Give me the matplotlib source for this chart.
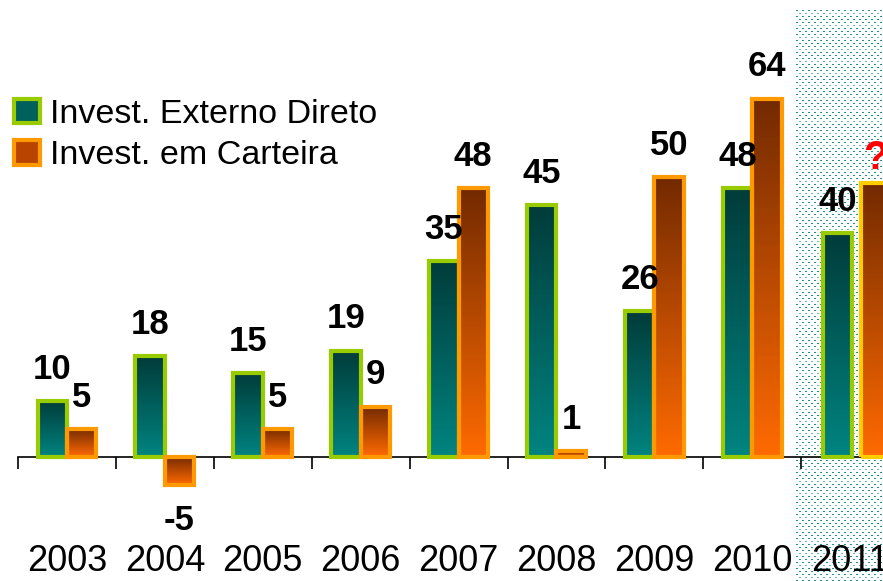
import matplotlib.pyplot as plt
import numpy as np
from matplotlib.patches import Patch
from matplotlib.colors import LinearSegmentedColormap

plt.rcParams['font.family'] = ['Liberation Sans', 'DejaVu Sans']

anos = ['2003', '2004', '2005', '2006', '2007', '2008', '2009', '2010', '2011']
ied = [10, 18, 15, 19, 35, 45, 26, 48, 40]
carteira = [5, -5, 5, 9, 48, 1, 50, 64, 49]
rotulos_ied = ['10', '18', '15', '19', '35', '45', '26', '48', '40']
rotulos_carteira = ['5', '-5', '5', '9', '48', '1', '50', '64', '?']

W, H = 883, 581
fig = plt.figure(figsize=(W / 100, H / 100), dpi=100)
ax = fig.add_axes([18 / W, 80 / H, 865 / W, 501 / H])
ax.set_facecolor('none')

# fundo pontilhado da projecao 2011
padrao = np.zeros((H - 10, W - 796, 4))
r, c = np.mgrid[0:H - 10, 0:W - 796]
pontos = (((r % 6 == 0) & (c % 6 < 2)) | ((r % 6 == 3) & ((c + 3) % 6 < 2)))
padrao[pontos] = [0.1, 0.58, 0.56, 1.0]
padrao[pontos & (r % 12 == 3)] = [0.4, 0.74, 0.72, 1.0]
img = fig.figimage(padrao, xo=796, yo=0, origin='upper')
img.set_zorder(-1)

cmap_verde = LinearSegmentedColormap.from_list('verde', ['#003C3A', '#008480'])
cmap_laranja = LinearSegmentedColormap.from_list('laranja', ['#732A00', '#FF6A00'])
grad = np.linspace(0, 1, 100).reshape(-1, 1)

x = np.arange(len(anos))
desloc_ied = np.full(len(anos), -0.15)
desloc_cart = np.full(len(anos), 0.15)
desloc_ied[-1] = -0.13
desloc_cart[-1] = 0.26
larg = 0.3

borda_cart = ['#FF9900'] * (len(anos) - 1) + ['#FFCC00']

b1 = ax.bar(x + desloc_ied, ied, width=larg, facecolor='none',
            edgecolor='#99CC00', linewidth=3, zorder=3)
b2 = ax.bar(x + desloc_cart, carteira, width=larg, facecolor='none',
            edgecolor=borda_cart, linewidth=3, zorder=3)

for barras, cmap in [(b1, cmap_verde), (b2, cmap_laranja)]:
    for bar in barras:
        x0 = bar.get_x()
        y0, y1 = sorted([bar.get_y(), bar.get_y() + bar.get_height()])
        ax.imshow(grad, cmap=cmap, extent=(x0, x0 + bar.get_width(), y0, y1),
                  aspect='auto', origin='upper', zorder=2)

def rotular(barras, textos, cor='black'):
    for bar, txt in zip(barras, textos):
        h = bar.get_height()
        cx = bar.get_x() + bar.get_width() / 2
        tam = 25
        if txt == '?':
            cor_t, tam, dy = 'red', 29, 4
        else:
            cor_t, dy = cor, 11
        if h >= 0:
            ax.annotate(txt, xy=(cx, h), xytext=(0, dy), textcoords='offset points',
                        ha='center', va='bottom', fontsize=tam, fontweight='bold', color=cor_t)
        else:
            ax.annotate(txt, xy=(cx, h), xytext=(0, -14), textcoords='offset points',
                        ha='center', va='top', fontsize=tam, fontweight='bold', color=cor_t)

rotular(b1, rotulos_ied)
rotular(b2, rotulos_carteira)

for s in ['top', 'right', 'left']:
    ax.spines[s].set_visible(False)
ax.spines['bottom'].set_position(('data', 0))
ax.spines['bottom'].set_linewidth(1.2)
ax.set_yticks([])
ax.set_xticks(x)
ax.set_xticklabels(anos, fontsize=26)
ax.set_xticks(np.arange(-0.5, len(anos), 1), minor=True)
ax.tick_params(axis='x', which='major', length=0, pad=63)
ax.tick_params(axis='x', which='minor', length=8.5, width=1.2, direction='out')
# limites depois dos ticks (set_xticks expande a vista)
ax.set_xlim(-0.5, 8.335)
ax.set_ylim(-7.86, 81.6)

handles = [Patch(facecolor='#00605C', edgecolor='#99CC00', linewidth=3),
           Patch(facecolor='#B84400', edgecolor='#FF9900', linewidth=3)]
fig.legend(handles, ['Invest. Externo Direto', 'Invest. em Carteira'],
           loc='center left', bbox_to_anchor=(14 / W, 1 - 135 / H),
           frameon=False, fontsize=24.5, borderpad=0, borderaxespad=0,
           handlelength=0.75, handleheight=0.75, handletextpad=0.3, labelspacing=0.3)

fig.savefig('out.png', dpi=100, facecolor='white')
